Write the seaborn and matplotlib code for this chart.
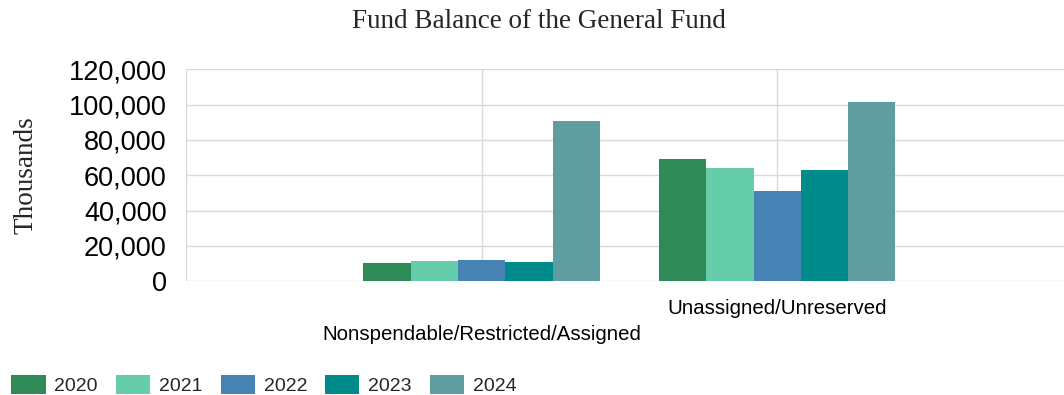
import matplotlib
matplotlib.use("Agg")
import matplotlib.pyplot as plt
import seaborn as sns
import pandas as pd
from matplotlib.ticker import FuncFormatter
from matplotlib.patches import Patch

categories = ["Nonspendable/Restricted/Assigned", "Unassigned/Unreserved"]
years = ["2020", "2021", "2022", "2023", "2024"]
values_2020 = [10400, 69400]
values_2021 = [11700, 64000]
values_2022 = [12300, 51000]
values_2023 = [11200, 63200]
values_2024 = [91000, 101700]
colors = ["#2E8B57", "#66CDAA", "#4682B4", "#008B8B", "#5F9EA0"]

series = [values_2020, values_2021, values_2022, values_2023, values_2024]
rows = []
for y, vals in zip(years, series):
    for c, v in zip(categories, vals):
        rows.append({"category": c, "year": y, "value": v})
df = pd.DataFrame(rows)

sns.set_theme(style="white")
plt.rcParams["font.family"] = ["Liberation Sans", "DejaVu Sans"]

fig = plt.figure(figsize=(10.64, 3.95), dpi=100)
ax = fig.add_axes([186 / 1064, 1 - 281.3 / 395, 1 - 186 / 1064, (281.3 - 69.3) / 395])

order = [""] + categories
sns.barplot(data=df, x="category", y="value", hue="year", order=order,
            hue_order=years, palette=colors, ax=ax, width=0.8,
            saturation=1, legend=False, linewidth=0)

ax.set_xlim(0, 2.97)
ax.set_ylim(0, 120000)
ax.set_yticks(range(0, 120001, 20000))
ax.yaxis.set_major_formatter(FuncFormatter(lambda v, p: f"{int(v):,}"))
ax.set_xticks([0, 1, 2])
ax.set_xticklabels(["", "\n" + categories[0], categories[1]], linespacing=1.45)

gc = "#d9d9d9"
ax.grid(True, color=gc, linewidth=1)
ax.set_axisbelow(True)
for s in ax.spines.values():
    s.set_visible(False)
ax.tick_params(axis="y", length=8, color=gc, width=1, pad=6, labelsize=19.5, labelcolor="#000000")
ax.tick_params(axis="x", length=3, color=gc, width=1, pad=10, labelsize=14.7, labelcolor="#000000")
ax.set_xlabel("")
ax.set_ylabel("")

fig.text(26 / 1064, 1 - 175 / 395, "Thousands", rotation=90, ha="center", va="center",
         fontsize=19.5, family=["Liberation Serif", "DejaVu Serif"])
fig.text(539 / 1064, 1 - 21 / 395, "Fund Balance of the General Fund", ha="center", va="center",
         fontsize=19.5, family=["Liberation Serif", "DejaVu Serif"])

handles = [Patch(facecolor=c, edgecolor="none") for c in colors]
fig.legend(handles, years, loc="lower left", bbox_to_anchor=(-0.002, -0.035), ncol=5,
           frameon=False, fontsize=14, handlelength=1.75, handleheight=1.15,
           columnspacing=0.93, handletextpad=0.46, borderaxespad=0.3)

fig.savefig("out.png", dpi=100)
